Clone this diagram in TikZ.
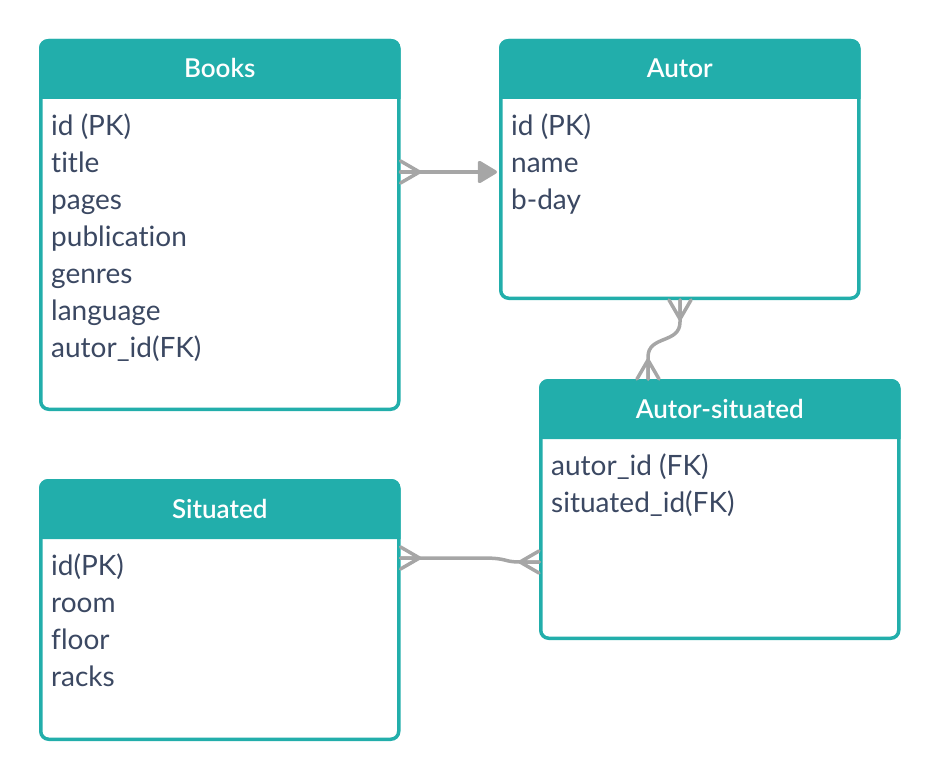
\documentclass[tikz,border=0pt]{standalone}
\usepackage{fontspec}
\setmainfont{Lato}[Ligatures=NoCommon]
\newfontfamily\headfont{Lato Semibold}
\usetikzlibrary{arrows.meta,calc}
\definecolor{tealhead}{HTML}{22AEAB}
\definecolor{fieldink}{HTML}{3B4862}
\definecolor{linkgray}{HTML}{A6A6A6}
\tikzset{
  tablebox/.style={draw=tealhead, line width=3.5pt, rounded corners=8pt, minimum width=358pt, minimum height=#1, inner sep=0pt, anchor=north west},
  headtext/.style={text=white, font=\headfont\fontsize{26}{30}\selectfont, anchor=base},
  fieldtext/.style={text=fieldink, font=\fontsize{28}{37}\selectfont, align=left, anchor=base west, inner sep=0pt},
  link/.style={draw=linkgray, line width=3.5pt, line cap=round, line join=round},
  crow/.pic={\draw[link] (0,-11) -- (19,0) -- (0,11) (0,0) -- (19,0);},
}
\begin{document}
\begin{tikzpicture}[x=1pt,y=-1pt]
\useasboundingbox (0,0) rectangle (940,781);
% tables
\node[tablebox=368.5pt] (books) at (39,39) {};
\node[tablebox=257.5pt] (autor) at (499,39) {};
\node[tablebox=257.5pt] (autsit) at (539,379) {};
\node[tablebox=258.5pt] (situated) at (39,479) {};
\foreach \t in {books,autor,autsit,situated}
  \fill[tealhead] ($(\t.north west)+(0,60)$) {[rounded corners=9pt] -- (\t.north west) -- (\t.north east)} -- ($(\t.north east)+(0,60)$) -- cycle;
% headers
\node[headtext] (books-h) at ($(books.north)+(0,39)$) {Books};
\node[headtext] (autor-h) at ($(autor.north)+(0,39)$) {Autor};
\node[headtext] (autsit-h) at ($(autsit.north)+(0,39)$) {Autor-situated};
\node[headtext] (situated-h) at ($(situated.north)+(0,39)$) {Situated};
% fields (anchored at the last baseline)
\node[fieldtext] (books-f) at ($(books.north west)+(12,318)$) {id (PK)\\title\\pages\\publication\\genres\\language\\autor\_id(FK)};
\node[fieldtext] (autor-f) at ($(autor.north west)+(12,170)$) {id (PK)\\name\\b-day};
\node[fieldtext] (autsit-f) at ($(autsit.north west)+(12,133)$) {autor\_id (FK)\\situated\_id(FK)};
\node[fieldtext] (situated-f) at ($(situated.north west)+(12,207)$) {id(PK)\\room\\floor\\racks};
% connectors
\coordinate (bk-r) at ($(books.north east)+(0,133)$);
\coordinate (au-l) at ($(autor.north west)+(0,133)$);
\coordinate (au-b) at ($(autor.south west)+(181,0)$);
\coordinate (as-t) at ($(autsit.north west)+(109,0)$);
\coordinate (st-r) at ($(situated.north east)+(0,79)$);
\coordinate (as-l) at ($(autsit.north west)+(0,183)$);
\pic at (bk-r) {crow};
\draw[link, -{Triangle[length=21pt,width=24pt,round]}] (bk-r) -- ($(au-l)+(-2,0)$);
\pic[rotate=-90] at (au-b) {crow};
\pic[rotate=90] at (as-t) {crow};
\draw[link] (au-b) -- ($(au-b)+(0,22)$) .. controls ($(au-b)+(0,44)$) and ($(as-t)+(0,-44)$) .. ($(as-t)+(0,-22)$) -- (as-t);
\pic at (st-r) {crow};
\pic[rotate=180] at (as-l) {crow};
\draw[link] (st-r) -- ($(st-r)+(82,0)$) .. controls ($(st-r)+(108,0)$) and ($(as-l)+(-36,0)$) .. ($(as-l)+(-19,0)$) -- (as-l);
\end{tikzpicture}
\end{document}
